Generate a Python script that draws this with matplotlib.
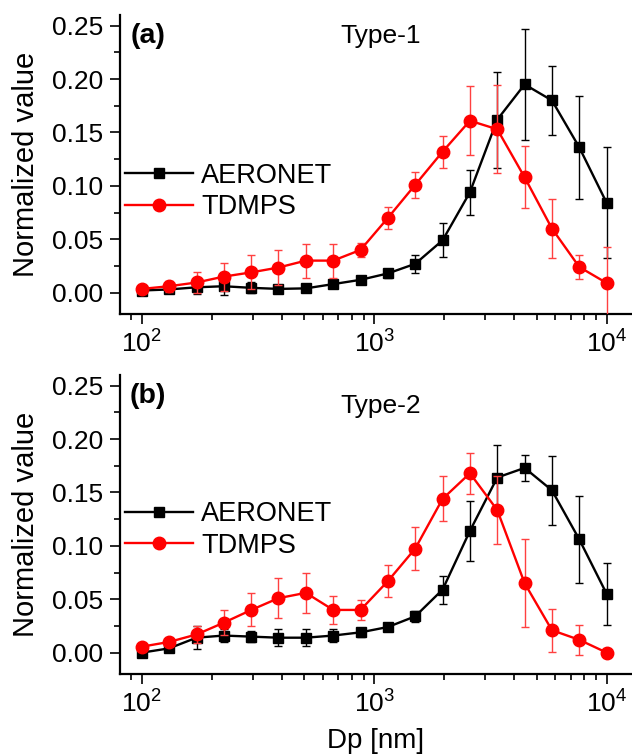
"""AERONET vs TDMPS normalized size distributions, two types."""
import matplotlib; matplotlib.use("Agg")
import matplotlib.pyplot as plt
from matplotlib.ticker import LogLocator, MultipleLocator, NullFormatter

plt.rcParams["font.family"] = ["Liberation Sans", "DejaVu Sans"]
plt.rcParams["mathtext.default"] = "regular"

dp = [100, 131, 172, 225, 296, 387, 508, 666, 873, 1145, 1501, 1968,
      2580, 3383, 4436, 5815, 7625, 10000]

# Type-1
aero_a = [0.002, 0.003, 0.005, 0.006, 0.0045, 0.0035, 0.004, 0.008, 0.012,
          0.018, 0.027, 0.049, 0.094, 0.162, 0.195, 0.180, 0.136, 0.084]
aero_a_err = [0.001, 0.002, 0.006, 0.008, 0.005, 0.003, 0.003, 0.003, 0.003,
              0.004, 0.0085, 0.016, 0.021, 0.045, 0.052, 0.032, 0.048, 0.052]
tdmps_a = [0.0035, 0.006, 0.0095, 0.015, 0.019, 0.0235, 0.030, 0.030, 0.040,
           0.070, 0.101, 0.132, 0.161, 0.153, 0.108, 0.060, 0.024, 0.009]
tdmps_a_err = [0.002, 0.005, 0.01, 0.013, 0.016, 0.016, 0.016, 0.016, 0.0065,
               0.0105, 0.012, 0.015, 0.0325, 0.041, 0.029, 0.0275, 0.0115, 0.034]

# Type-2
aero_b = [0.000, 0.004, 0.014, 0.016, 0.015, 0.014, 0.014, 0.016, 0.019,
          0.024, 0.034, 0.059, 0.114, 0.164, 0.173, 0.152, 0.106, 0.055]
aero_b_err = [0.001, 0.002, 0.011, 0.006, 0.005, 0.008, 0.008, 0.006, 0.004,
              0.003, 0.005, 0.013, 0.028, 0.030, 0.0125, 0.032, 0.041, 0.029]
tdmps_b = [0.0056, 0.010, 0.017, 0.028, 0.040, 0.051, 0.056, 0.040, 0.040,
           0.067, 0.0975, 0.144, 0.168, 0.1335, 0.065, 0.021, 0.012, 0.000]
tdmps_b_err = [0.001, 0.002, 0.008, 0.0115, 0.0155, 0.0186, 0.0186, 0.013, 0.009,
               0.015, 0.020, 0.021, 0.019, 0.032, 0.041, 0.020, 0.014, 0.0]

W, H = 632, 755
fig = plt.figure(figsize=(W / 100, H / 100), dpi=100)


def panel(top_px, aero, aero_err, tdmps, tdmps_err, tag, title, leg_y):
    ax = fig.add_axes([120 / W, 1 - (top_px + 299) / H, 512 / W, 299 / H])
    # error bars first, lines + markers on top (legend without bars)
    ax.errorbar(dp, aero, yerr=aero_err, fmt="none", ecolor="black",
                elinewidth=1.0, capsize=3.2, capthick=1.0, zorder=1)
    ax.plot(dp, aero, color="black", lw=1.7, marker="s", ms=7,
            label="AERONET", zorder=2)
    ax.errorbar(dp, tdmps, yerr=tdmps_err, fmt="none", ecolor="#ff4040",
                elinewidth=1.0, capsize=3.2, capthick=1.0, zorder=3)
    ax.plot(dp, tdmps, color="#ff0000", lw=1.7, marker="o", ms=9,
            label="TDMPS", zorder=4)
    ax.set_xscale("log")
    ax.set_xlim(80.6, 12850)
    ax.set_ylim(-0.02, 0.26)
    ax.yaxis.set_major_locator(MultipleLocator(0.05))
    ax.yaxis.set_minor_locator(MultipleLocator(0.025))
    ax.yaxis.set_major_formatter(plt.FuncFormatter(lambda v, p: f"{v:.2f}"))
    ax.xaxis.set_major_locator(LogLocator(base=10, numticks=10))
    ax.xaxis.set_minor_locator(LogLocator(base=10, subs=range(2, 10), numticks=20))
    ax.xaxis.set_minor_formatter(NullFormatter())
    for s in ("top", "right"):
        ax.spines[s].set_visible(False)
    for s in ("left", "bottom"):
        ax.spines[s].set_linewidth(1.6)
    ax.tick_params(which="major", direction="out", length=7, width=1.2,
                   labelsize=19, pad=5)
    ax.tick_params(which="minor", direction="out", length=4, width=1.2)
    ax.set_ylabel("Normalized value", fontsize=21, labelpad=9)
    ax.text(0.055, 0.93, tag, transform=ax.transAxes, fontsize=20.5,
            fontweight="bold", ha="center", va="center")
    ax.text(0.51, 0.93 if tag == "(a)" else 0.895, title, transform=ax.transAxes,
            fontsize=19, ha="center", va="center")
    ax.legend(loc="center left", bbox_to_anchor=(0.01, leg_y), frameon=False,
              fontsize=19.5, handlelength=2.5, handletextpad=0.3,
              labelspacing=0.2, borderpad=0, borderaxespad=0)
    return ax


ax1 = panel(15, aero_a, aero_a_err, tdmps_a, tdmps_a_err, "(a)", "Type-1", 0.41)
ax2 = panel(375, aero_b, aero_b_err, tdmps_b, tdmps_b_err, "(b)", "Type-2", 0.482)
ax2.set_xlabel("Dp [nm]", fontsize=20, labelpad=7)

fig.savefig("out.png", dpi=100)
